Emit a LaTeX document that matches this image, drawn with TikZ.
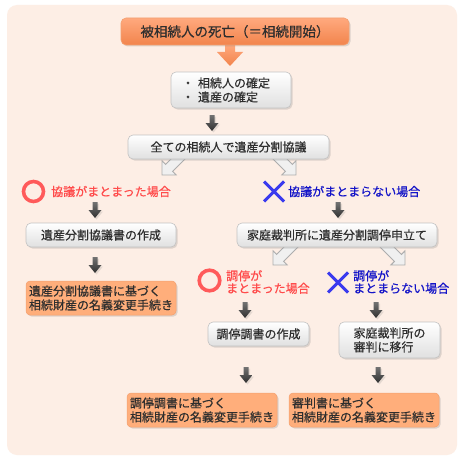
\documentclass[tikz,border=0pt]{standalone}
\usepackage{fontspec}
\newfontfamily\jp[FakeBold=0.5]{Noto Sans CJK JP}
\usetikzlibrary{shadows}
\definecolor{bgc}{HTML}{FDEEE5}
\definecolor{orng}{HTML}{FFAE7B}
\definecolor{orngbd}{HTML}{F3A070}
\definecolor{orngtop}{HTML}{FFA97E}
\definecolor{orngdk}{HTML}{F2844C}
\definecolor{redc}{HTML}{FF5A5A}
\definecolor{redt}{HTML}{FF4B4B}
\definecolor{bluec}{HTML}{3A3AEE}
\definecolor{bluet}{HTML}{1414C8}
\definecolor{txt}{HTML}{2E2E2E}
\definecolor{wbord}{HTML}{C2C2C2}
\definecolor{wbot}{HTML}{E0E0E0}
\definecolor{garfill}{HTML}{F0F0F0}
\definecolor{garbd}{HTML}{ADADAD}
\definecolor{dartop}{HTML}{727272}
\definecolor{darbot}{HTML}{303030}
\tikzset{
  wbox/.style={draw=wbord, line width=0.6pt, rounded corners=5pt, top color=white, bottom color=wbot,
    inner sep=0pt, align=center, drop shadow={shadow xshift=1.5pt, shadow yshift=-1.5pt, opacity=0.25}},
  obox/.style={draw=orngbd, line width=0.5pt, rounded corners=4pt, fill=orng, inner sep=0pt,
    align=left, drop shadow={shadow xshift=1.5pt, shadow yshift=-1.5pt, opacity=0.25}},
  tbox/.style={draw=orngbd, line width=0.6pt, rounded corners=5pt, top color=orngtop, bottom color=orngdk,
    inner sep=0pt, font=\jp\fontsize{13.5}{15}\selectfont, drop shadow={shadow xshift=1.5pt, shadow yshift=-1.5pt, opacity=0.25}},
  redlbl/.style={text=redt, anchor=west, inner sep=0pt, align=left},
  bluelbl/.style={text=bluet, anchor=west, inner sep=0pt, align=left},
  okmark/.style={draw=redc, line width=3.6pt},
  ngmark/.style={draw=bluec, line width=3pt},
  garrow/.pic={\draw[draw=garbd, fill=garfill, line width=0.9pt, line join=miter]
     (0,0) -- (-10,10) -- (-10,5) -- (-32,5) -- (-32,-5) -- (-10,-5) -- (-10,-10) -- cycle;},
  darrow/.pic={\path[top color=dartop, bottom color=darbot,
     drop shadow={shadow xshift=1.5pt, shadow yshift=-1.5pt, opacity=0.2}]
     (0,0) -- (-6.5,-8) -- (-2.5,-8) -- (-2.5,-16) -- (2.5,-16) -- (2.5,-8) -- (6.5,-8) -- cycle;}
}
\begin{document}
\begin{tikzpicture}[x=1pt,y=-1pt, font=\jp\fontsize{12}{14}\selectfont, text=txt]
\useasboundingbox (0,0) rectangle (463,460);
\fill[white] (0,0) rectangle (463,460);
\fill[bgc, rounded corners=10pt] (7,5) rectangle (457,455);

% gray branch arrows (behind boxes)
\pic[rotate=225] at (162,175) {garrow};
\pic[rotate=315] at (296,175) {garrow};
\pic[rotate=225] at (273,265) {garrow};
\pic[rotate=315] at (405,265) {garrow};

% orange arrow
\path[top color=orngtop, bottom color=orngdk] (225,44) -- (235,44) -- (235,52) -- (243,52) -- (230,66) -- (217,52) -- (225,52) -- cycle;

\node[tbox, minimum width=228, minimum height=27] (top) at (235,31.5) {被相続人の死亡（＝相続開始）};

\node[wbox, align=left, text width=98, inner xsep=11, minimum height=36] (b2) at (231,90)
  {・\hspace{4pt}相続人の確定\\・\hspace{4pt}遺産の確定};

\node[wbox, minimum width=201, minimum height=24] (b3) at (228.5,147) {全ての相続人で遺産分割協議};

% first branch labels
\draw[okmark] (33.5,191.5) circle (10);
\node[redlbl] (ok1) at (51,191.5) {協議がまとまった場合};
\draw[ngmark] (264,181.5) -- (284,201.5) (284,181.5) -- (264,201.5);
\node[bluelbl] (ng1) at (288,191.5) {協議がまとまらない場合};

\node[wbox, minimum width=150, minimum height=24] (l1) at (101,235) {遺産分割協議書の作成};
\node[wbox, minimum width=200, minimum height=24] (r1) at (337,235) {家庭裁判所に遺産分割調停申立て};

\node[obox, minimum width=150, minimum height=34] (l2) at (101,298) {遺産分割協議書に基づく\\相続財産の名義変更手続き};

% second branch labels
\draw[okmark] (209.5,280.5) circle (10.3);
\node[redlbl, font=\jp\fontsize{12}{12.5}\selectfont] (ok2) at (226,282) {調停が\\まとまった場合};
\draw[ngmark] (328,272.5) -- (348,292.5) (348,272.5) -- (328,292.5);
\node[bluelbl, font=\jp\fontsize{12}{12.5}\selectfont] (ng2) at (353,282) {調停が\\まとまらない場合};

\node[wbox, minimum width=101, minimum height=24] (m1) at (258.5,334) {調停調書の作成};
\node[wbox, align=left, minimum width=101, minimum height=36] (n1) at (389.5,340) {家庭裁判所の\\審判に移行};

\node[obox, minimum width=150, minimum height=34] (m2) at (202,410) {調停調書に基づく\\相続財産の名義変更手続き};
\node[obox, minimum width=150, minimum height=34] (n2) at (364,410) {審判書に基づく\\相続財産の名義変更手続き};

% dark arrows
\pic at (212,131) {darrow};
\pic at (95,218) {darrow};
\pic at (338,218) {darrow};
\pic at (95,273) {darrow};
\pic at (245,318) {darrow};
\pic at (376,318) {darrow};
\pic at (246,383) {darrow};
\pic at (378,383) {darrow};
\end{tikzpicture}
\end{document}
